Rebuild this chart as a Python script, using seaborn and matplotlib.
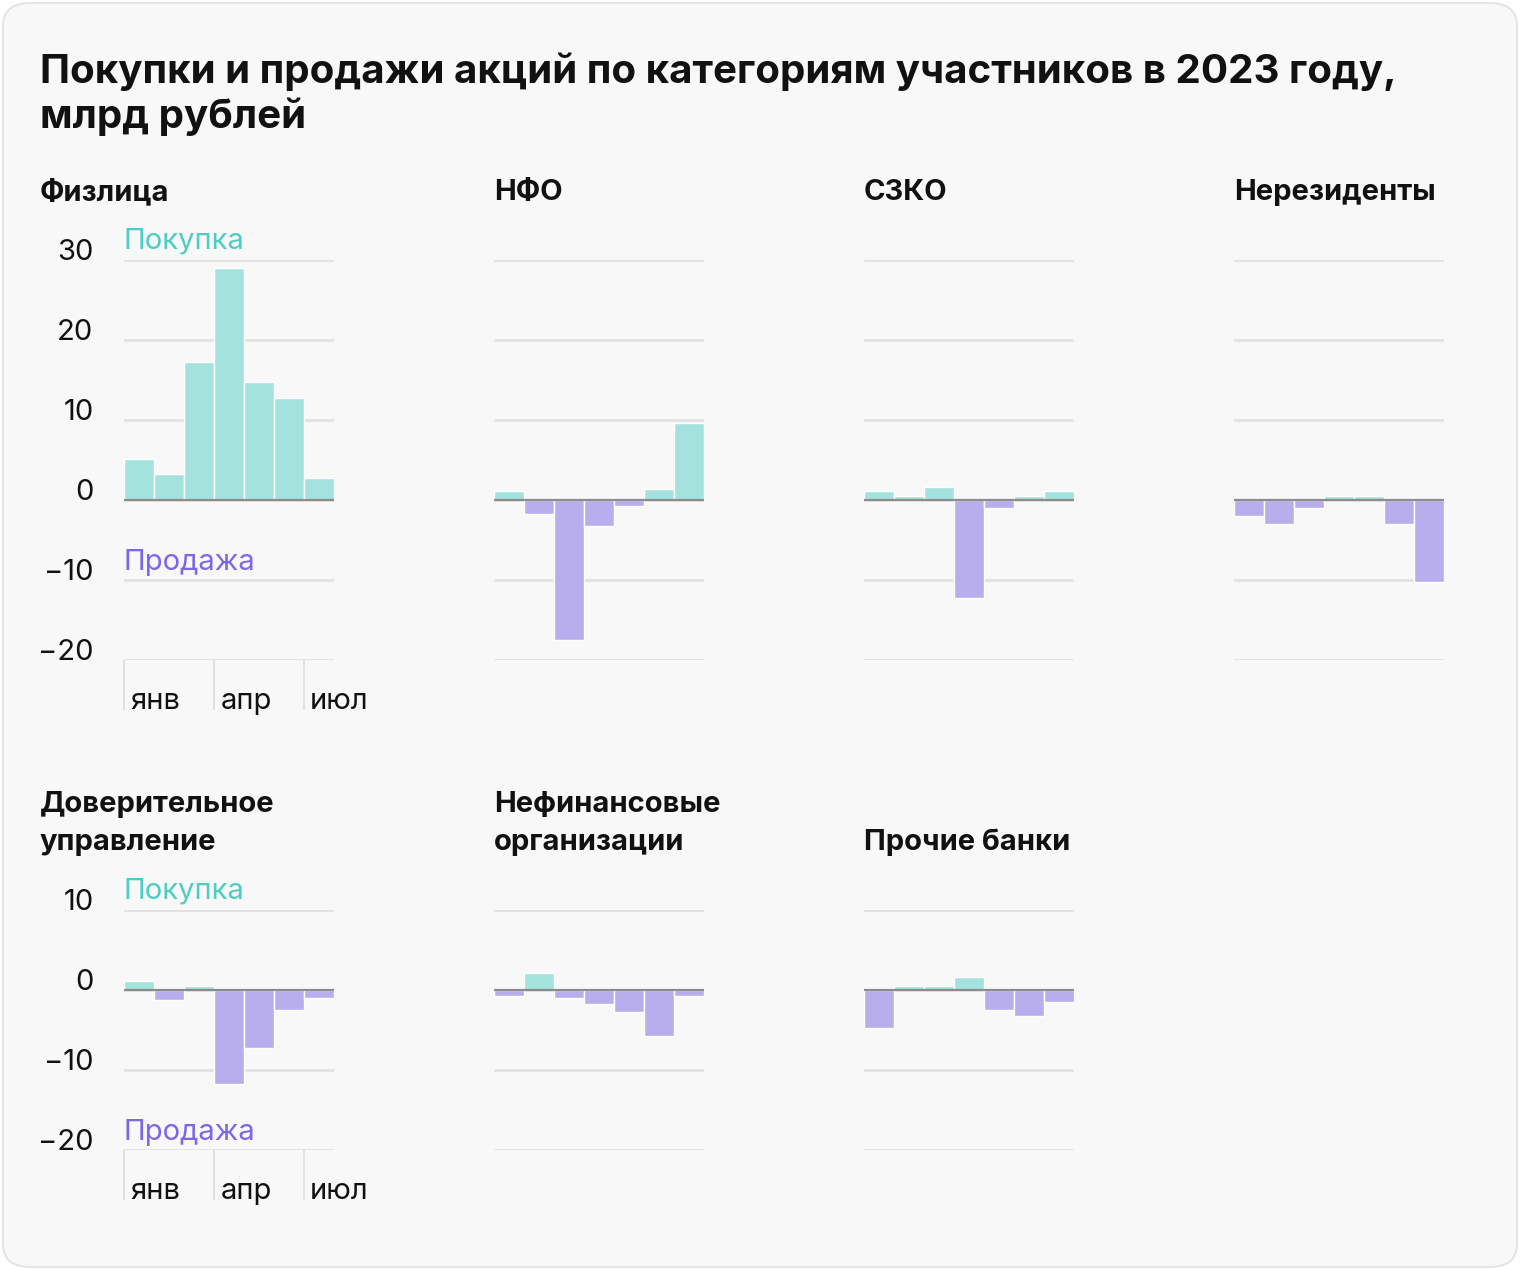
import matplotlib
matplotlib.use('Agg')
import matplotlib.pyplot as plt
import matplotlib.transforms as mtransforms
from matplotlib.patches import FancyBboxPatch
import pandas as pd
import seaborn as sns

months = ['янв', 'фев', 'мар', 'апр', 'май', 'июн', 'июл']
shown_months = ['янв', 'апр', 'июл']

fiz = [5.1, 3.3, 17.3, 29.0, 14.8, 12.8, 2.8]
nfo = [1.1, -1.75, -17.5, -3.25, -0.75, 1.4, 9.6]
szko = [1.1, 0.5, 1.6, -12.2, -1.0, 0.5, 1.1]
nonres = [-2.0, -3.0, -1.0, 0.5, 0.5, -3.0, -10.2]
du = [1.1, -1.25, 0.5, -11.7, -7.2, -2.5, -1.0]
nonfin = [-0.75, 2.1, -1.0, -1.75, -2.75, -5.75, -0.75]
other_banks = [-4.75, 0.5, 0.5, 1.6, -2.5, -3.25, -1.5]

panels = [
    ('Физлица', fiz, 0, 0),
    ('НФО', nfo, 0, 1),
    ('СЗКО', szko, 0, 2),
    ('Нерезиденты', nonres, 0, 3),
    ('Доверительное\nуправление', du, 1, 0),
    ('Нефинансовые\nорганизации', nonfin, 1, 1),
    ('Прочие банки', other_banks, 1, 2),
]

BUY = '#a4e2dd'
SELL = '#b8aeee'
BUY_TXT = '#4fcdc3'
SELL_TXT = '#7b68e6'
GRID = '#e2e2e2'

sns.set_theme(style='white')
plt.rcParams['font.family'] = ['Inter', 'DejaVu Sans']

W, H = 1520, 1270
fig = plt.figure(figsize=(W / 100, H / 100), dpi=100, facecolor='white')

card = FancyBboxPatch((3 / W, 3 / H), (W - 6) / W, (H - 6) / H,
                      boxstyle='round,pad=0,rounding_size=0.018',
                      transform=fig.transFigure, facecolor='#f8f8f8',
                      edgecolor='#e4e4e4', linewidth=1.5, zorder=-10)
fig.patches.append(card)

fig.text(40 / W, 1 - 128 / H, 'Покупки и продажи акций по категориям участников в 2023 году,\nмлрд рублей',
         fontsize=29, fontweight='bold', va='baseline', ha='left', linespacing=1.22,
         color='#111111')

lefts = [124, 494, 864, 1234]
rows = {0: (260, 660, (-20, 30), [30, 20, 10, 0, -10, -20]),
        1: (910, 1150, (-20, 10), [10, 0, -10, -20])}
title_bottom = {0: 200, 1: 850}

for name, vals, r, c in panels:
    top, bottom, ylim, yt = rows[r]
    ax = fig.add_axes([lefts[c] / W, 1 - bottom / H, 210 / W, (bottom - top) / H])
    ax.set_facecolor('none')

    df = pd.DataFrame({'month': months, 'value': vals,
                       'side': ['buy' if v >= 0 else 'sell' for v in vals]})
    sns.barplot(data=df, x='month', y='value', hue='side', order=months,
                hue_order=['buy', 'sell'], palette={'buy': BUY, 'sell': SELL},
                dodge=False, width=1, saturation=1, edgecolor='white', linewidth=1.0,
                legend=False, ax=ax, zorder=2)

    ax.set_xlim(-0.5, 6.5)
    ax.set_ylim(*ylim)
    ax.set_yticks(yt)
    ax.grid(axis='y', color=GRID, linewidth=2, zorder=0)
    ax.grid(axis='x', visible=False)
    ax.set_axisbelow(True)
    ax.axhline(0, color='#8c8c8c', linewidth=1.6, zorder=3)
    for s in ax.spines.values():
        s.set_visible(False)
    ax.set_xlabel('')
    ax.set_ylabel('')

    if c == 0:
        ax.tick_params(axis='y', length=0, pad=22, labelsize=21, labelcolor='#111111')
        for lbl in ax.get_yticklabels():
            lbl.set_verticalalignment('baseline')
        ax.set_xticks([-0.5, 2.5, 5.5])
        ax.set_xticklabels([])
        ax.tick_params(axis='x', bottom=True, length=36, width=1.2, color='#dcdcdc',
                       direction='out')
        btr = mtransforms.blended_transform_factory(ax.transData, ax.transAxes)
        for i, m in enumerate(shown_months):
            ax.annotate(m, xy=(i * 3 - 0.5, 0), xycoords=btr,
                        xytext=(4.5, -35), textcoords='offset points',
                        ha='left', va='baseline', fontsize=21, color='#111111')
        ax.annotate('Покупка', xy=(-0.5, yt[0]), xytext=(0, 8), textcoords='offset points',
                    ha='left', va='baseline', fontsize=21, color=BUY_TXT)
        sell_y = -10 if r == 0 else -20
        ax.annotate('Продажа', xy=(-0.5, sell_y), xytext=(0, 7.5), textcoords='offset points',
                    ha='left', va='baseline', fontsize=21, color=SELL_TXT)
        tx = 40
    else:
        ax.set_yticklabels([])
        ax.tick_params(axis='y', length=0)
        ax.set_xticks([])
        tx = lefts[c]

    fig.text(tx / W, 1 - title_bottom[r] / H, name, fontsize=21, fontweight='bold',
             ha='left', va='baseline', linespacing=1.52, color='#111111')

fig.savefig('out.png', dpi=100, facecolor='white')
